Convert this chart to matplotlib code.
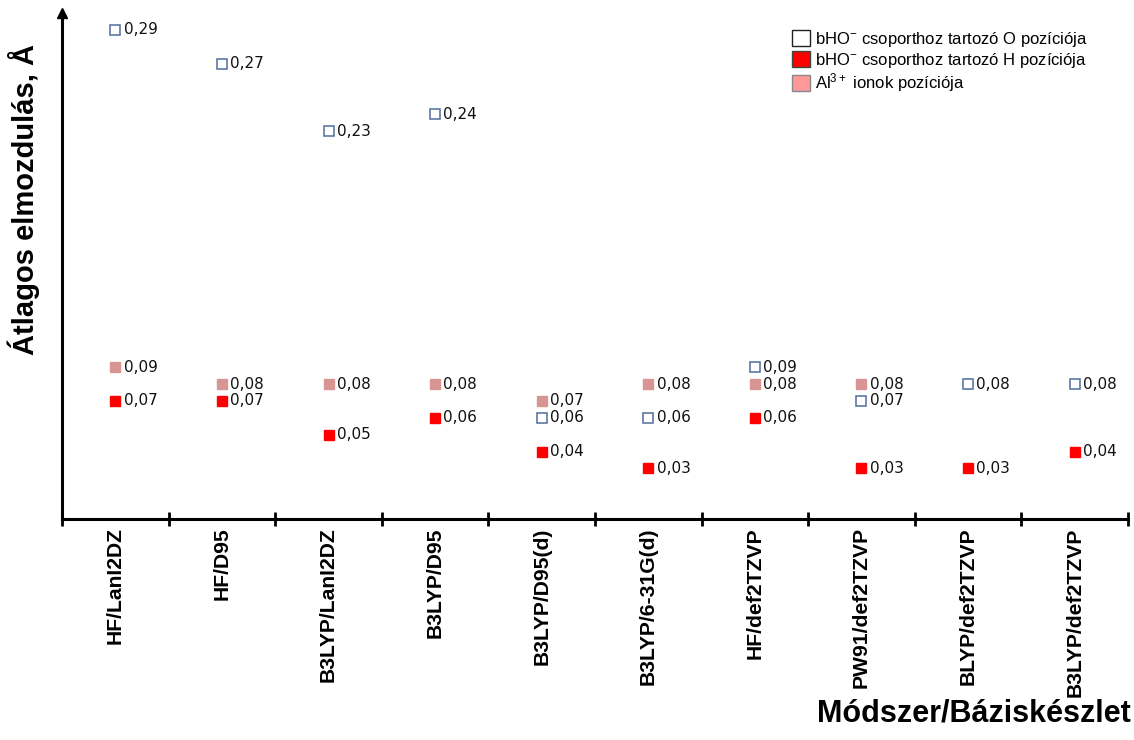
import numpy as np
import matplotlib
matplotlib.use("Agg")
import matplotlib.pyplot as plt
from matplotlib.patches import Patch

plt.rcParams["font.family"] = ["Liberation Sans", "DejaVu Sans"]
plt.rcParams["mathtext.default"] = "regular"

methods = ["HF/LanI2DZ", "HF/D95", "B3LYP/LanI2DZ", "B3LYP/D95", "B3LYP/D95(d)",
           "B3LYP/6-31G(d)", "HF/def2TZVP", "PW91/def2TZVP", "BLYP/def2TZVP",
           "B3LYP/def2TZVP"]
o_pos = [0.29, 0.27, 0.23, 0.24, 0.06, 0.06, 0.09, 0.07, 0.08, 0.08]
h_pos = [0.07, 0.07, 0.05, 0.06, 0.04, 0.03, 0.06, 0.03, 0.03, 0.04]
al_pos = [0.09, 0.08, 0.08, 0.08, 0.07, 0.08, 0.08, 0.08, np.nan, np.nan]

series_labels = [r"bHO$^{-}$ csoporthoz tartozó O pozíciója",
                 r"bHO$^{-}$ csoporthoz tartozó H pozíciója",
                 r"Al$^{3+}$ ionok pozíciója"]

fig = plt.figure(figsize=(11.34, 7.4), dpi=100)
ax = fig.add_axes([0.0547, 0.2986, 0.94, 0.6838])

x = np.arange(len(methods))

ax.plot(x, al_pos, "s", ls="none", ms=6.5, color="#d99594", mec="#d99594", zorder=3)
ax.plot(x, h_pos, "s", ls="none", ms=6.5, color="#ff0000", mec="#ff0000", zorder=3)
ax.plot(x, o_pos, "s", ls="none", ms=6.5, mfc="white", mec="#4f6d9a", mew=1.1, zorder=4)

for vals in (o_pos, h_pos, al_pos):
    for xi, v in zip(x, vals):
        if np.isnan(v):
            continue
        ax.annotate(f"{v:.2f}".replace(".", ","), (xi, v), xytext=(6, 0),
                    textcoords="offset points", va="center", ha="left",
                    fontsize=11, family="DejaVu Sans", color="#111111")

ax.set_xlim(-0.5, len(methods) - 0.5)
ax.set_ylim(0, 0.30)

for side in ("top", "right"):
    ax.spines[side].set_visible(False)
ax.spines["left"].set_linewidth(2.2)
ax.spines["bottom"].set_linewidth(2.2)
ax.plot(0, 1, "^", color="black", ms=7, transform=ax.transAxes, clip_on=False)

ax.set_yticks([])
ax.set_xticks(x)
ax.set_xticklabels(methods, rotation=90, fontsize=15.2, fontweight="bold")
ax.tick_params(axis="x", which="major", length=0, pad=6)
ax.set_xticks(np.arange(-0.5, len(methods)), minor=True)
ax.tick_params(axis="x", which="minor", direction="inout", length=10, width=2)

fig.text(0.0207, 0.73, "Átlagos elmozdulás, Å", rotation=90, fontsize=21,
         fontweight="bold", ha="center", va="center")
fig.text(0.997, 0.015, "Módszer/Báziskészlet", fontsize=22, fontweight="bold",
         ha="right", va="bottom")

handles = [Patch(facecolor="white", edgecolor="#222222", lw=1.0),
           Patch(facecolor="#ff0000", edgecolor="#444444", lw=1.0),
           Patch(facecolor="#ff9999", edgecolor="#888888", lw=1.0)]
fig.legend(handles, series_labels, loc="upper left", bbox_to_anchor=(0.698, 0.96),
           frameon=False, fontsize=12, handlelength=1.1, handleheight=1.1,
           handletextpad=0.3, labelspacing=0.12, borderpad=0, borderaxespad=0)

fig.savefig("out.png", dpi=100)
